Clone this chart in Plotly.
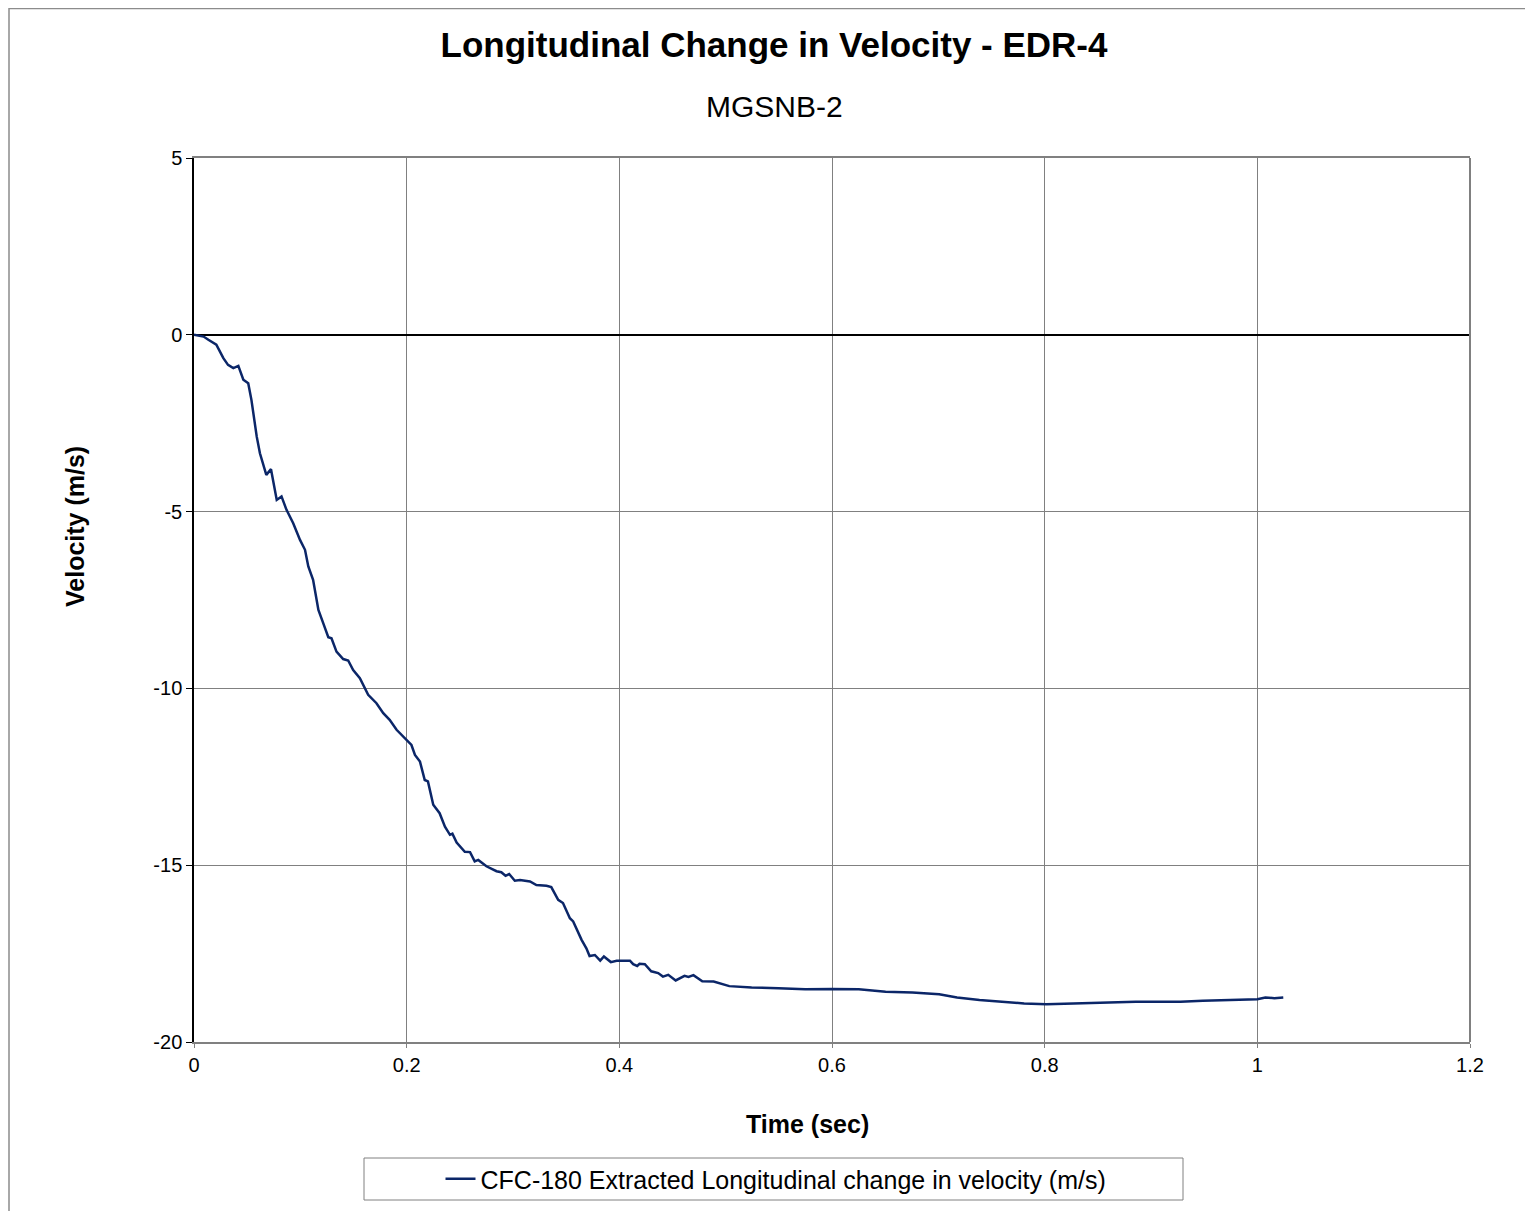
import plotly.graph_objects as go

time_s = [0.000, 0.009, 0.0135, 0.021, 0.0276, 0.032, 0.037, 0.0417, 0.0464, 0.051,
          0.054, 0.059, 0.062, 0.068, 0.0724, 0.0778, 0.0823, 0.087, 0.0933, 0.0997,
          0.1044, 0.1075, 0.112, 0.117, 0.1216, 0.1263, 0.1293, 0.134, 0.1403, 0.145,
          0.1497, 0.156, 0.1638, 0.1716, 0.178, 0.184, 0.1905, 0.1998, 0.2045, 0.2078,
          0.2125, 0.217, 0.220, 0.225, 0.231, 0.236, 0.2407, 0.243, 0.247, 0.2547,
          0.2596, 0.264, 0.2673, 0.275, 0.2845, 0.289, 0.293, 0.2964, 0.3017, 0.3066,
          0.316, 0.322, 0.3315, 0.336, 0.3425, 0.347, 0.3535, 0.3566, 0.3645, 0.369,
          0.372, 0.377, 0.382, 0.3855, 0.392, 0.3975, 0.410, 0.413, 0.4168, 0.419,
          0.424, 0.430, 0.4365, 0.441, 0.446, 0.453, 0.4613, 0.465, 0.4697, 0.478,
          0.4887, 0.5034, 0.5244, 0.5496, 0.5748, 0.600, 0.6252, 0.6504, 0.6756, 0.7008,
          0.7176, 0.7387, 0.7597, 0.7807, 0.8017, 0.8227, 0.8437, 0.8647, 0.8857, 0.9067,
          0.9277, 0.9487, 0.9697, 0.9908, 1.000, 1.0076, 1.016, 1.0244]
velocity = [0.00, -0.05, -0.14, -0.28, -0.66, -0.85, -0.94, -0.88, -1.27, -1.37,
            -1.84, -2.88, -3.35, -3.96, -3.80, -4.67, -4.57, -4.95, -5.33, -5.80,
            -6.08, -6.55, -6.93, -7.78, -8.16, -8.55, -8.58, -8.96, -9.17, -9.21,
            -9.48, -9.71, -10.18, -10.42, -10.70, -10.89, -11.17, -11.46, -11.60, -11.88,
            -12.07, -12.59, -12.63, -13.29, -13.53, -13.91, -14.14, -14.11, -14.36, -14.62,
            -14.63, -14.89, -14.85, -15.03, -15.17, -15.20, -15.30, -15.25, -15.44, -15.42,
            -15.46, -15.56, -15.58, -15.62, -15.98, -16.07, -16.50, -16.59, -17.11, -17.35,
            -17.57, -17.54, -17.70, -17.58, -17.74, -17.70, -17.70, -17.80, -17.85, -17.79,
            -17.80, -18.00, -18.05, -18.15, -18.10, -18.26, -18.13, -18.16, -18.11, -18.28,
            -18.29, -18.42, -18.46, -18.48, -18.51, -18.50, -18.51, -18.58, -18.60, -18.65,
            -18.74, -18.81, -18.86, -18.91, -18.93, -18.91, -18.89, -18.88, -18.86, -18.86,
            -18.86, -18.83, -18.81, -18.79, -18.79, -18.74, -18.76, -18.74]

x_ticks = [0, 0.2, 0.4, 0.6, 0.8, 1, 1.2]
x_tick_labels = ["0", "0.2", "0.4", "0.6", "0.8", "1", "1.2"]
y_ticks = [5, 0, -5, -10, -15, -20]
y_tick_labels = ["5", "0", "-5", "-10", "-15", "-20"]

FONT = "Liberation Sans, Arial, sans-serif"
OFF = 8  # page body margin
W, H = 1533 - OFF, 1211 - OFF
L, R, T, B = 194 - OFF, 63, 158 - OFF, 169
PW, PH = W - L - R, H - T - B

def px_x(p):
    return (p - OFF - L) / PW

def px_y(p):
    return (H - B - (p - OFF)) / PH

fig = go.Figure()
fig.add_trace(go.Scatter(
    x=time_s, y=velocity, mode="lines",
    name="CFC-180 Extracted Longitudinal change in velocity (m/s)",
    line=dict(color="#0b2668", width=2.5),
))

fig.update_layout(
    width=W, height=H,
    margin=dict(l=L, r=R, t=T, b=B, autoexpand=False),
    paper_bgcolor="white", plot_bgcolor="white",
    font=dict(family=FONT, color="black"),
    title=dict(text="<b>Longitudinal Change in Velocity - EDR-4</b>",
               x=(774 - OFF) / W, xref="container", xanchor="center",
               y=1 - (45 - OFF) / H, yref="container", yanchor="middle",
               font=dict(size=35, family=FONT, color="black")),
    showlegend=True,
    legend=dict(x=px_x(776), xanchor="center", xref="paper",
                y=px_y(1179), yanchor="middle", yref="paper",
                orientation="h", bgcolor="rgba(0,0,0,0)", borderwidth=0,
                font=dict(size=25, family=FONT, color="black")),
    xaxis=dict(range=[0, 1.2], tickvals=x_ticks, ticktext=x_tick_labels,
               showgrid=True, gridcolor="#808080", gridwidth=1,
               showline=True, linecolor="#808080", linewidth=2, mirror=True,
               ticks="outside", ticklen=4, tickcolor="#808080",
               zeroline=False, tickfont=dict(size=20, family=FONT, color="black")),
    yaxis=dict(range=[-20, 5], tickvals=y_ticks, ticktext=y_tick_labels,
               showgrid=True, gridcolor="#808080", gridwidth=1,
               showline=True, linecolor="black", linewidth=1.5, mirror=False,
               ticks="outside", ticklen=6, tickcolor="black",
               zeroline=True, zerolinecolor="black", zerolinewidth=1.5,
               tickfont=dict(size=20, family=FONT, color="black")),
    annotations=[
        dict(text="MGSNB-2", xref="paper", yref="paper",
             x=px_x(774), y=px_y(107), xanchor="center", yanchor="middle",
             showarrow=False, font=dict(size=30, family=FONT, color="black")),
        dict(text="<b>Time (sec)</b>", xref="paper", yref="paper",
             x=px_x(807), y=px_y(1124), xanchor="center", yanchor="middle",
             showarrow=False, font=dict(size=25, family=FONT, color="black")),
        dict(text="<b>Velocity (m/s)</b>", xref="paper", yref="paper",
             x=px_x(75), y=px_y(527), xanchor="center", yanchor="middle",
             textangle=-90, showarrow=False,
             font=dict(size=25, family=FONT, color="black")),
    ],
    shapes=[
        # outer chart frame (top and left edges visible)
        dict(type="rect", xref="paper", yref="paper",
             x0=px_x(9), x1=px_x(1700), y0=px_y(1400), y1=px_y(8.5),
             line=dict(color="#8c8c8c", width=1.5), layer="below"),
        # right border of plot area
        dict(type="line", xref="paper", yref="paper", x0=1, x1=1, y0=0, y1=1,
             line=dict(color="#808080", width=2)),
        # legend frame
        dict(type="rect", xref="paper", yref="paper",
             x0=px_x(364), x1=px_x(1183), y0=px_y(1200), y1=px_y(1158),
             line=dict(color="#808080", width=1)),
    ],
)

fig.write_html("out.html")
